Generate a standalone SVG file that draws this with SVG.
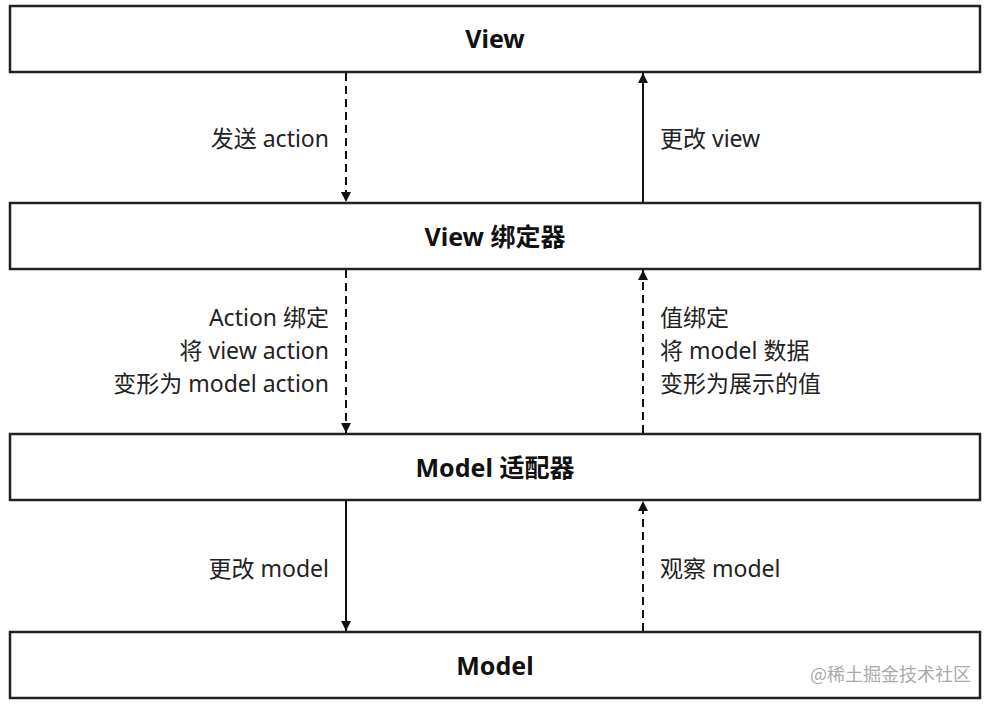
<svg xmlns="http://www.w3.org/2000/svg" width="991" height="705" viewBox="0 0 991 705">
<style>
.box{fill:#fff;stroke:#222;stroke-width:2.5}
.title{font-family:"Noto Sans","Noto Sans CJK SC",sans-serif;font-weight:bold;font-size:25px;fill:#111;text-anchor:middle}
.lbl{font-family:"Noto Sans","Noto Sans CJK SC",sans-serif;font-size:23px;fill:#222}
.r{text-anchor:end}
.solid{stroke:#111;stroke-width:2;fill:none}
.dash{stroke:#111;stroke-width:2;fill:none;stroke-dasharray:8,5}
.wm{font-family:"Noto Sans CJK SC",sans-serif;font-size:18px;fill:#aaa}
</style>
<defs>
<marker id="ah" viewBox="0 0 10 10" refX="10" refY="5" markerWidth="10" markerHeight="10" markerUnits="userSpaceOnUse" orient="auto">
<path d="M0,0 L10,5 L0,10 z" fill="#111"/>
</marker>
</defs>
<g id="view"><rect class="box" x="10" y="6" width="970" height="66"/><text class="title" x="495" y="48">View</text></g>
<g id="view-binder"><rect class="box" x="10" y="203" width="970" height="66"/><text class="title" x="495" y="246">View 绑定器</text></g>
<g id="model-adapter"><rect class="box" x="10" y="434" width="970" height="66"/><text class="title" x="495" y="477">Model 适配器</text></g>
<g id="model"><rect class="box" x="10" y="632" width="970" height="66"/><text class="title" x="495" y="675">Model</text></g>
<g id="connectors">
<line class="dash" x1="346" y1="73" x2="346" y2="202" marker-end="url(#ah)"/>
<line class="solid" x1="643" y1="202" x2="643" y2="73" marker-end="url(#ah)"/>
<line class="dash" x1="346" y1="270" x2="346" y2="433" marker-end="url(#ah)"/>
<line class="dash" x1="643" y1="433" x2="643" y2="270" marker-end="url(#ah)"/>
<line class="solid" x1="346" y1="501" x2="346" y2="631" marker-end="url(#ah)"/>
<line class="dash" x1="643" y1="631" x2="643" y2="501" marker-end="url(#ah)"/>
<text class="lbl r" x="329" y="147">发送 action</text>
<text class="lbl" x="660" y="147">更改 view</text>
<text class="lbl r" x="329" y="326">Action 绑定</text>
<text class="lbl r" x="329" y="359">将 view action</text>
<text class="lbl r" x="329" y="392">变形为 model action</text>
<text class="lbl" x="660" y="326">值绑定</text>
<text class="lbl" x="660" y="359">将 model 数据</text>
<text class="lbl" x="660" y="392">变形为展示的值</text>
<text class="lbl r" x="329" y="577">更改 model</text>
<text class="lbl" x="660" y="577">观察 model</text>
</g>
<text class="wm" x="810" y="681">@稀土掘金技术社区</text>
</svg>
